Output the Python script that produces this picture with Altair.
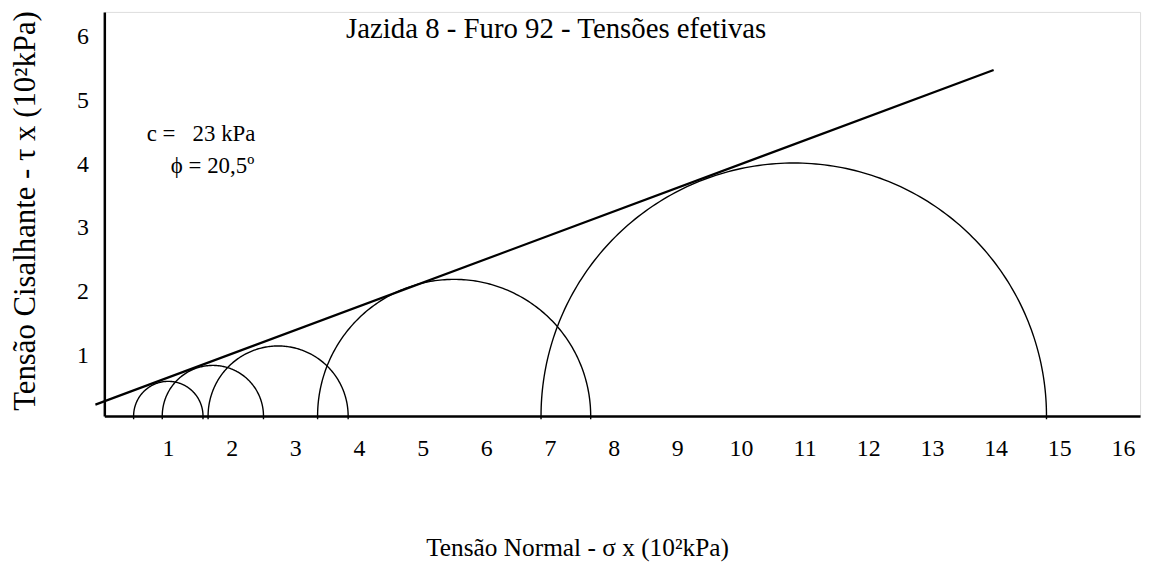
import numpy as np
import pandas as pd
import altair as alt

# Mohr circles: minor and major principal stresses (10^2 kPa)
sigma3 = [0.46, 0.91, 1.63, 3.35, 6.86]
sigma1 = [1.55, 2.50, 3.83, 7.64, 14.80]

# Failure envelope end points (c = 23 kPa, phi = 20.5 deg)
env_x = [-0.14, 13.97]
env_y = [0.18, 5.43]

x_ticks = list(range(1, 17))
y_ticks = list(range(1, 7))

title_text = ["Jazida 8 - Furo 92 - Tensões efetivas"]

ann_text = ["c = \u00a0\u00a023 kPa", "\u03d5 = 20,5\u00ba"]
ann_x = [1.52, 1.70]
ann_y = [4.42, 3.92]

FONT = "Liberation Serif"

rows = []
for k, (s3, s1) in enumerate(zip(sigma3, sigma1)):
    p = (s1 + s3) / 2
    r = (s1 - s3) / 2
    th = np.linspace(0, np.pi, 181)
    xs = list(p - r * np.cos(th))
    ys = list(r * np.sin(th))
    xs = [s3] + xs + [s1]
    ys = [-0.05] + ys + [-0.05]
    for i, (a, b) in enumerate(zip(xs, ys)):
        rows.append({"circle": k, "i": i, "x": a, "y": b})
circ_df = pd.DataFrame(rows)

env_df = pd.DataFrame({"x": env_x, "y": env_y, "i": [0, 1]})
ann_df = pd.DataFrame({"x": ann_x, "y": ann_y, "t": ann_text})
title_df = pd.DataFrame({"t": title_text})

xscale = alt.Scale(domain=[0, 16.27], nice=False, zero=False)
yscale = alt.Scale(domain=[0, 6.34], nice=False, zero=False)

xaxis = alt.Axis(
    values=x_ticks, format="d", title="Tensão Normal - \u03c3 x (10\u00b2kPa)", grid=False, ticks=False,
    domainColor="black", domainWidth=2.5, labelFont=FONT, labelFontSize=24, labelColor="black",
    labelPadding=21, titleFont=FONT, titleFontSize=25.5, titleFontWeight="normal", titleColor="black",
    titleX=476, titleY=120, titleBaseline="top", titleAlign="center", titleAnchor=None,
)
yaxis = alt.Axis(
    values=y_ticks, format="d", title="Tensão Cisalhante - \u03c4 x (10\u00b2kPa)", grid=False, ticks=False,
    domainColor="black", domainWidth=2.5, labelFont=FONT, labelFontSize=24, labelColor="black",
    labelPadding=16, labelOffset=3, titleFont=FONT, titleFontSize=31, titleFontWeight="normal",
    titleColor="black", titleX=-79, titleY=200, titleAngle=270, titleBaseline="middle",
    titleAlign="center",
)

circles = alt.Chart(circ_df).mark_line(color="black", strokeWidth=1.4, clip=False).encode(
    x=alt.X("x:Q", scale=xscale, axis=xaxis),
    y=alt.Y("y:Q", scale=yscale, axis=yaxis),
    detail="circle:N",
    order="i:Q",
)

envelope = alt.Chart(env_df).mark_line(color="black", strokeWidth=2.2, clip=False).encode(
    x=alt.X("x:Q", scale=xscale),
    y=alt.Y("y:Q", scale=yscale),
    order="i:Q",
)

ann = alt.Chart(ann_df).mark_text(font=FONT, fontSize=23, color="black", align="center",
                                   baseline="middle").encode(
    x=alt.X("x:Q", scale=xscale),
    y=alt.Y("y:Q", scale=yscale),
    text="t:N",
)

title = alt.Chart(title_df).mark_text(font=FONT, fontSize=29, color="black", align="center",
                                       baseline="alphabetic").encode(
    x=alt.value(455),
    y=alt.value(26),
    text="t:N",
)

chart = alt.layer(circles, envelope, ann, title).properties(
    width=1043,
    height=407,
    autosize=alt.AutoSizeParams(type="none"),
    padding={"left": 97, "top": 2, "right": 10, "bottom": 148},
).configure_view(stroke=None).configure(background="white")

chart.save("out.html", embed_options={"renderer": "svg", "actions": False})
